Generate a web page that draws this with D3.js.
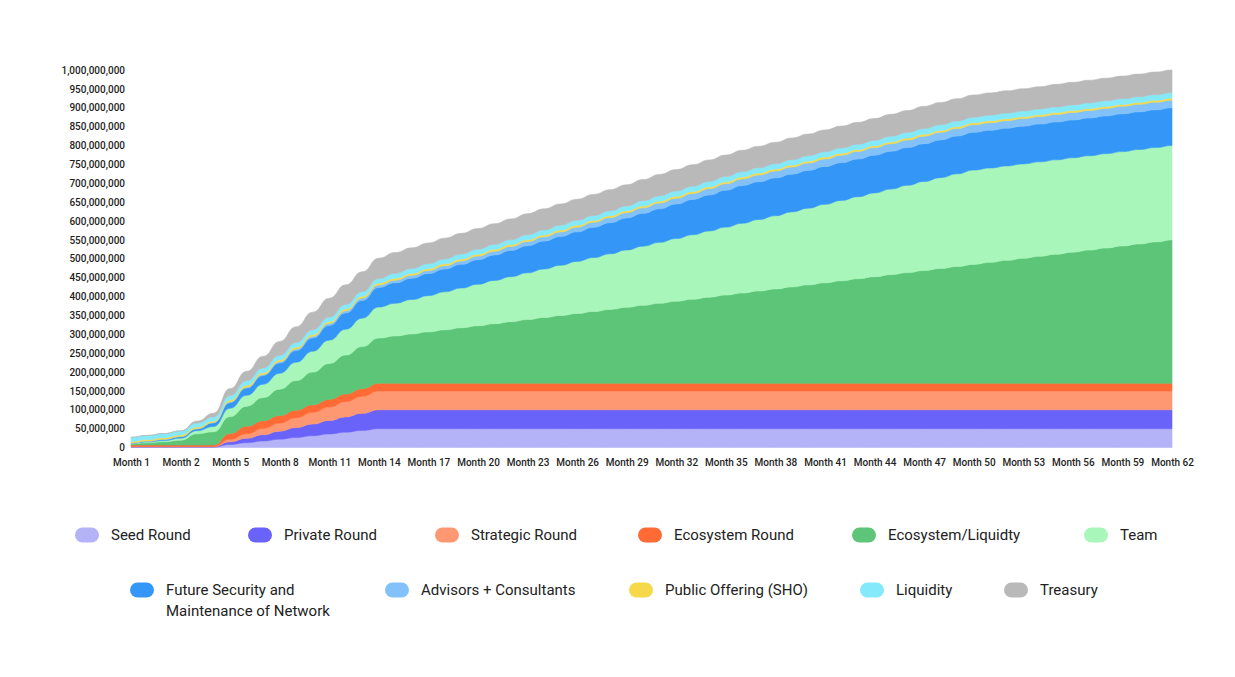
<!DOCTYPE html>
<html><head><meta charset="utf-8">
<script src="https://cdn.jsdelivr.net/npm/d3@7"></script>
<style>
body{margin:0;background:#fff;}
svg{display:block;font-family:Roboto,"Noto Sans",sans-serif;}
</style></head><body>
<svg id="chart" width="1235" height="677"></svg>
<script>
// Categories (64 points); every third one is labelled on the axis
const categories = ["Month 1","Month 1.33","Month 1.67"].concat(d3.range(2, 63).map(m => "Month " + m));
const tickLabels = ["Month 1","Month 2","Month 5","Month 8","Month 11","Month 14","Month 17","Month 20","Month 23","Month 26","Month 29","Month 32","Month 35","Month 38","Month 41","Month 44","Month 47","Month 50","Month 53","Month 56","Month 59","Month 62"];

// Unlocked tokens per allocation, in millions
const seedRound = [1,1,1,1,1,1,8,12.7,17.3,22,26.7,31.3,36,40.7,45.3,50,50,50,50,50,50,50,50,50,50,50,50,50,50,50,50,50,50,50,50,50,50,50,50,50,50,50,50,50,50,50,50,50,50,50,50,50,50,50,50,50,50,50,50,50,50,50,50,50];
const privateRound = [1,1,1,1,1,1,7,11.8,16.6,21.3,26.1,30.9,35.7,40.4,45.2,50,50,50,50,50,50,50,50,50,50,50,50,50,50,50,50,50,50,50,50,50,50,50,50,50,50,50,50,50,50,50,50,50,50,50,50,50,50,50,50,50,50,50,50,50,50,50,50,50];
const strategicRound = [0.5,0.5,0.5,0.5,0.5,0.5,7,11.8,16.6,21.3,26.1,30.9,35.7,40.4,45.2,50,50,50,50,50,50,50,50,50,50,50,50,50,50,50,50,50,50,50,50,50,50,50,50,50,50,50,50,50,50,50,50,50,50,50,50,50,50,50,50,50,50,50,50,50,50,50,50,50];
const ecosystemRound = [4,4,4,4,4,4,15,20,20,20,20,20,20,20,20,20,20,20,20,20,20,20,20,20,20,20,20,20,20,20,20,20,20,20,20,20,20,20,20,20,20,20,20,20,20,20,20,20,20,20,20,20,20,20,20,20,20,20,20,20,20,20,20,20];
const ecosystemLiquidity = [3,6,9,13,30,35,45,53.3,61.7,70,78.3,86.7,95,103.3,111.7,120,125.4,130.8,136.3,141.7,147.1,152.5,157.9,163.3,168.8,174.2,179.6,185,190.4,195.8,201.3,206.7,212.1,217.5,222.9,228.3,233.8,239.2,244.6,250,255.4,260.8,266.3,271.7,277.1,282.5,287.9,293.3,298.8,304.2,309.6,315,320.4,325.8,331.3,336.7,342.1,347.5,352.9,358.3,363.8,369.2,374.6,380];
const team = [1,2,3,5,8,14,22,28.7,35.3,42,48.7,55.3,62,68.7,75.3,82,86.7,91.3,96,100.7,105.3,110,114.7,119.3,124,128.7,133.3,138,142.7,147.3,152,156.7,161.3,166,170.7,175.3,180,184.7,189.3,194,198.7,203.3,208,212.7,217.3,222,226.7,231.3,236,240.7,245.3,250,250,250,250,250,250,250,250,250,250,250,250,250];
const futureSecurity = [1,2,3,4,5,10,15,19,23,27,31,35,39,43,47,52,54.2,56.4,58.5,60.7,62.9,65.1,67.3,69.5,71.6,73.8,76,78.2,80.4,82.5,84.7,86.9,89.1,91.3,93.5,95.6,97.8,100,100,100,100,100,100,100,100,100,100,100,100,100,100,100,100,100,100,100,100,100,100,100,100,100,100,100];
const advisors = [0.5,0.5,0.5,0.5,0.5,0.5,2,2.5,3,3.5,4,4.5,5,5.5,6,6.5,7,7.5,8,8.5,9,9.5,10,10.5,11,11.5,12,12.5,13,13.5,14,14.5,15,15.5,16,16.5,17,17.5,18,18.5,19,19.5,20,20,20,20,20,20,20,20,20,20,20,20,20,20,20,20,20,20,20,20,20,20];
const publicOffering = [4,4,4,4,4,4,5,5,5,5,5,5,5,5,5,5,5,5,5,5,5,5,5,5,5,5,5,5,5,5,5,5,5,5,5,5,5,5,5,5,5,5,5,5,5,5,5,5,5,5,5,5,5,5,5,5,5,5,5,5,5,5,5,5];
const liquidity = [11,11,11,11,11,11,12,12,12,12,12,12,12,12,12,12,13,13,13,13,13,13,13,13,13,13,13,13,13,13,13,14,14,14,14,14,14,14,14,14,14,14,14,14,14,14,15,15,15,15,15,15,15,15,15,15,15,15,15,15,15,15,15,15];
const treasury = [0,0,0,0,5,10,18,25,31,37,42,47,50,52,53,54,55,55,55,55,55,55,55,55,56,56,56,56,56,56,56,56,57,57,57,57,57,57,57,57,58,58,58,58,58,58,58,58,59,59,59,59,59,59,59,59,60,60,60,60,60,60,60,60];

const seriesNames = ["Seed Round","Private Round","Strategic Round","Ecosystem Round","Ecosystem/Liquidty","Team","Future Security and Maintenance of Network","Advisors + Consultants","Public Offering (SHO)","Liquidity","Treasury"];
const seriesValues = [seedRound,privateRound,strategicRound,ecosystemRound,ecosystemLiquidity,team,futureSecurity,advisors,publicOffering,liquidity,treasury];
const seriesColors = ["#b4b3f8","#6a63fa","#fe9872","#ff6a35","#5cc577","#a8f6b9","#3497f8","#82c1fa","#f5d94b","#84eafb","#b9b9b9"];
const yTicks = d3.range(0, 1001, 50);

const svg = d3.select("#chart");
const table = categories.map((c, i) => {
  const row = {cat: c};
  seriesNames.forEach((n, k) => row[n] = seriesValues[k][i]);
  return row;
});
const layers = d3.stack().keys(seriesNames)(table);

const x = d3.scalePoint().domain(categories).range([131, 1172]);
const y = d3.scaleLinear().domain([0, 1000]).range([447.5, 70]);

const area = d3.area()
  .x(d => x(d.data.cat))
  .y0(d => y(d[0]))
  .y1(d => y(d[1]))
  .curve(d3.curveBumpX);

svg.append("g").selectAll("path").data(layers).join("path")
  .attr("d", area)
  .attr("fill", (d, i) => seriesColors[i])
  .attr("stroke", (d, i) => seriesColors[i])
  .attr("stroke-width", 0.6);

const fmt = d3.format(",");
const yAxis = svg.append("g").attr("transform", "translate(131,0)")
  .call(d3.axisLeft(y).tickValues(yTicks).tickFormat(d => fmt(d * 1e6)).tickSize(0).tickPadding(6));
yAxis.select(".domain").remove();
yAxis.selectAll("text").attr("font-size", 10).attr("font-weight", 500).attr("fill", "#1e1e1e").attr("font-family", "Roboto");

const tickCats = categories.filter((c, i) => i % 3 === 0);
const xAxis = svg.append("g").attr("transform", "translate(0,447.5)")
  .call(d3.axisBottom(x).tickValues(tickCats).tickFormat((d, i) => tickLabels[i]).tickSize(0).tickPadding(11));
xAxis.select(".domain").remove();
xAxis.selectAll("text").attr("font-size", 10).attr("font-weight", 500).attr("fill", "#1e1e1e").attr("font-family", "Roboto");

// Legend
const legendPos = [
  [87,535],[260,535],[447,535],[650,535],[864,535],[1096,535],
  [142,590],[397,590],[641,590],[872,590],[1016,590]
];
const legendLines = [["Seed Round"],["Private Round"],["Strategic Round"],["Ecosystem Round"],["Ecosystem/Liquidty"],["Team"],
  ["Future Security and","Maintenance of Network"],["Advisors + Consultants"],["Public Offering (SHO)"],["Liquidity"],["Treasury"]];
const lg = svg.append("g");
seriesNames.forEach((n, i) => {
  const [cx, cy] = legendPos[i];
  lg.append("rect").attr("x", cx - 12).attr("y", cy - 7.5).attr("width", 24).attr("height", 15)
    .attr("rx", 7.5).attr("fill", seriesColors[i]);
  const t = lg.append("text").attr("x", cx + 24).attr("y", cy)
    .attr("font-size", 15).attr("fill", "#222");
  legendLines[i].forEach((line, j) => {
    t.append("tspan").attr("x", cx + 24).attr("dy", j === 0 ? "0.35em" : "21px").text(line);
  });
});
</script>
</body></html>
